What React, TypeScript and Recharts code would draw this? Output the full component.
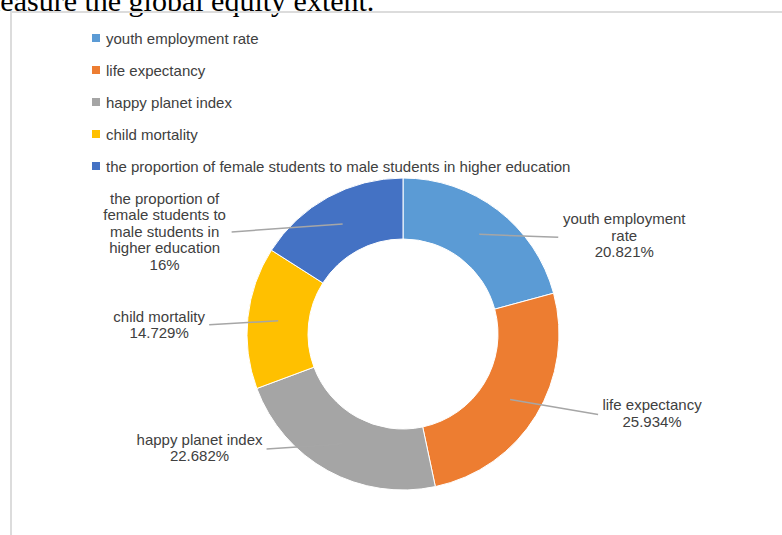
import React from 'react'
import { PieChart, Pie, Cell } from 'recharts'

// category names, shares (%) and slice colours, clockwise from 12 o'clock
const categories = [
  'youth employment rate',
  'life expectancy',
  'happy planet index',
  'child mortality',
  'the proportion of female students to male students in higher education',
]
const shares = [20.821, 25.934, 22.682, 14.729, 16]
const colors = ['#5B9BD5', '#ED7D31', '#A5A5A5', '#FFC000', '#4472C4']

// where each data label sits relative to the middle of its ring segment
// tx/ty: centre of first text row, lx/ly: outer end of leader line
const labelOffsets = [
  { tx: 145, ty: -15, lx: 79, ly: 3 },
  { tx: 142, ty: 6, lx: 88, ly: 15 },
  { tx: -143, ty: -4, lx: -76, ly: 5 },
  { tx: -119, ty: -4, lx: -69, ly: 4 },
  { tx: -178, ty: -25, lx: -111, ly: 8 },
]

const pieData = categories.map((name, i) => ({ name, value: shares[i] }))

const RAD = Math.PI / 180
const TEXT = '#404040'
const FONT = '"Liberation Sans", Arial, Helvetica, sans-serif'

function wrap(s: string, max: number) {
  const out: string[] = []
  let cur = ''
  for (const w of s.split(' ')) {
    if (cur && (cur + ' ' + w).length > max) {
      out.push(cur)
      cur = w
    } else {
      cur = cur ? cur + ' ' + w : w
    }
  }
  if (cur) out.push(cur)
  return out
}

function renderLabel(props: any) {
  const { cx, cy, midAngle, innerRadius, outerRadius, index, value } = props
  const r = (innerRadius + outerRadius) / 2
  const ax = cx + r * Math.cos(-midAngle * RAD)
  const ay = cy + r * Math.sin(-midAngle * RAD)
  const o = labelOffsets[index]
  const lines = [...wrap(categories[index], 18), `${value}%`]
  const tx = ax + o.tx
  return (
    <g>
      <line x1={ax} y1={ay} x2={ax + o.lx} y2={ay + o.ly} stroke="#A6A6A6" strokeWidth={1.5} />
      <text x={tx} y={ay + o.ty + 5} textAnchor="middle" fill={TEXT} fontSize={15} fontFamily={FONT}>
        {lines.map((l, i) => (
          <tspan key={i} x={tx} dy={i === 0 ? 0 : 16.5}>
            {l}
          </tspan>
        ))}
      </text>
    </g>
  )
}

function LegendBox() {
  return (
    <div style={{ fontFamily: FONT, fontSize: 15, color: TEXT }}>
      {categories.map((c, i) => (
        <div key={c} style={{ height: 32, display: 'flex', alignItems: 'center', whiteSpace: 'nowrap' }}>
          <span style={{ width: 8, height: 8, background: colors[i], marginRight: 6, display: 'inline-block' }} />
          {c}
        </div>
      ))}
    </div>
  )
}

export default function App() {
  return (
    <div
      style={{
        position: 'fixed',
        left: 0,
        top: 0,
        width: 782,
        height: 535,
        overflow: 'hidden',
        background: '#fff',
      }}
    >
      <div
        style={{
          position: 'absolute',
          left: -23,
          top: -14,
          fontFamily: '"Liberation Serif", "Times New Roman", serif',
          fontSize: 30,
          lineHeight: 1,
          whiteSpace: 'nowrap',
          color: '#000',
        }}
      >
        measure the global equity extent.
      </div>
      <div
        style={{
          position: 'absolute',
          left: 10,
          top: 11,
          width: 820,
          height: 600,
          border: '2px solid #DCDCDC',
        }}
      />
      <div style={{ position: 'absolute', left: 0, top: 0 }}>
        <PieChart width={782} height={535} margin={{ top: 0, right: 0, bottom: 0, left: 0 }}>
          <Pie
            data={pieData}
            dataKey="value"
            nameKey="name"
            cx={403}
            cy={334}
            innerRadius={95}
            outerRadius={156}
            startAngle={90}
            endAngle={-270}
            stroke="#fff"
            strokeWidth={1}
            label={renderLabel}
            labelLine={false}
            isAnimationActive={false}
          >
            {pieData.map((d, i) => (
              <Cell key={d.name} fill={colors[i]} />
            ))}
          </Pie>
        </PieChart>
      </div>
      <div style={{ position: 'absolute', left: 92, top: 22 }}>
        <LegendBox />
      </div>
    </div>
  )
}
